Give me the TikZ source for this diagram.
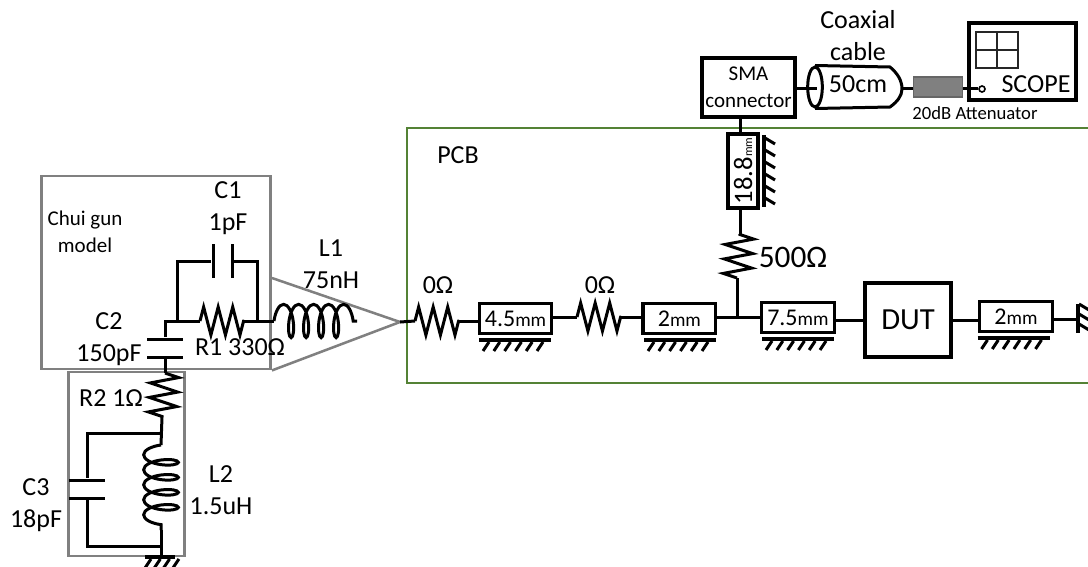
\documentclass[tikz,border=0pt]{standalone}
\usepackage{fontspec}
\setmainfont{Carlito}
\usetikzlibrary{positioning}
\usetikzlibrary{shapes.geometric}
\usetikzlibrary{decorations.pathmorphing}
\usetikzlibrary{calc}
\definecolor{pcbgreen}{RGB}{84,130,53}
\newcommand{\mmunit}{{\fontsize{14.5}{16}\selectfont mm}}
% ground: bar, then its hatches
\newcommand{\groundbar}[2]{%
  \draw[gndline] (#1-36,#2) -- (#1+36,#2);
  \foreach \k in {0,...,5} {\draw[hatchline] (#1-26+\k*10.8,#2+2) -- (#1-32+\k*10.8,#2+11);}
}
\begin{document}
\begin{tikzpicture}[
  x=0.75pt, y=-0.75pt,
  font=\fontsize{19.5}{24}\selectfont,
  wire/.style={line width=2.25pt},
  res/.style={line width=2.25pt, decorate, decoration={zigzag, segment length=10.9pt, amplitude=10.5pt}},
  ind/.style={line width=2.25pt, decorate, decoration={coil, segment length=11.25pt, amplitude=12.5pt, aspect=0.35}},
  indb/.style={line width=2.25pt, decorate, decoration={coil, mirror, segment length=11.25pt, amplitude=13pt, aspect=0.35}},
  gndline/.style={line width=2.4pt},
  hatchline/.style={line width=2.25pt},
  frame/.style={draw=gray, line width=1.9pt},
  stub/.style={draw, line width=2.4pt, inner sep=0pt, minimum width=54.5pt, minimum height=22.5pt, fill=white, font=\fontsize{18}{20}\selectfont},
  platex/.style={fill=black, inner sep=0pt, minimum width=27pt, minimum height=2.25pt},
  platey/.style={fill=black, inner sep=0pt, minimum width=2.25pt, minimum height=25.5pt},
  small/.style={font=\fontsize{15.75}{20}\selectfont, align=center},
  lbl/.style={align=center}
]
\useasboundingbox (0,0) rectangle (1088,567);

% Frames
\draw[pcbgreen, line width=1.9pt] (1088,128) -- (407,128) -- (407,383) -- (1088,383);
\node[frame, minimum width=172pt, minimum height=145pt, inner sep=0pt] (chui) at (156,272.5) {};
\node[frame, minimum width=87pt, minimum height=138pt, inner sep=0pt] (lower) at (126.5,464) {};
\coordinate (tip) at (400,322);
\draw[gray, line width=1.9pt] (chui.north east |- 0,278) -- (tip) -- (chui.south east);

% Chui gun part
\coordinate (n1) at (165,321);
\coordinate (n2) at (177,321);
\coordinate (n3) at (257,321);
\coordinate (r1a) at (200,321);
\coordinate (r1b) at (244,321);
\coordinate (l1a) at (274,321);
\coordinate (l1b) at (357,321);
\node[platey] (c1a) at (213,261) {};
\node[platey] (c1b) at (232,261) {};
\node[platex] (c2a) at (165,339) {};
\node[platex] (c2b) at (165,357) {};
\draw[wire] (c2a) -- (n1) -- (r1a);
\draw[res] (r1a) -- (r1b);
\draw[wire] (r1b) -- (l1a);
\draw[wire] (n2) |- (c1a);
\draw[wire] (c1b) -| (n3);
\draw[ind] (l1a) -- (l1b);

% Lower part
\coordinate (r2a) at (165,373);
\coordinate (r2b) at (162,417);
\coordinate (n4) at (162,433);
\coordinate (l2a) at (161,445);
\coordinate (l2b) at (161,530);
\coordinate (n5) at (161,546);
\coordinate (gnd1) at (161,556);
\node[platex] (c3a) at (87,480) {};
\node[platex] (c3b) at (87,498) {};
\draw[wire] (c2b) -- (r2a);
\draw[res] (r2a) -- (r2b);
\draw[wire] (r2b) -- (l2a);
\draw[indb] (l2a) -- (l2b);
\draw[wire] (l2b) -- (gnd1);
\draw[wire] (n4) -| (c3a);
\draw[wire] (c3b) |- (n5);
\draw[gndline] (145,557) -- (175,557);
\foreach \k in {0,...,3} {\draw[hatchline] (151+\k*9.3,559) -- (145+\k*9.3,568);}

% PCB line
\coordinate (r3a) at (415,321);
\coordinate (r3b) at (459,321);
\node[stub] (t1) at (515.5,318.5) {4.5\mmunit};
\coordinate (r4a) at (577,317);
\coordinate (r4b) at (621,317);
\node[stub, right=66pt of t1] (t2) {2\mmunit};
\coordinate (j1) at (737,317);
\node[stub, right=32pt of t2, yshift=0.75pt] (t3) {7.5\mmunit};
\node[draw, line width=3pt, minimum width=64pt, minimum height=56pt, inner sep=0pt, font=\fontsize{23}{26}\selectfont] (dut) at (908,320) {DUT};
\node[stub, right=19pt of dut, yshift=2.6pt] (t4) {2\mmunit};
\coordinate (gnd2) at (1078,319);
\draw[wire] (tip) -- (r3a);
\draw[res] (r3a) -- (r3b);
\draw[wire] (r3b) -- (r3b -| t1.west);
\draw[wire] (t1.east |- r4a) -- (r4a);
\draw[res] (r4a) -- (r4b);
\draw[wire] (r4b) -- (r4b -| t2.west);
\draw[wire] (t2.east |- j1) -- (j1 -| t3.west);
\draw[wire] (t3.east |- dut) -- (dut);
\draw[wire] (dut) -- (dut -| t4.west);
\draw[wire] (t4.east |- gnd2) -- (gnd2);
\draw[gndline] (1078,304) -- (1078,333);
\foreach \k in {0,1,2} {\draw[hatchline] (1079,304+\k*10) -- (1089,310+\k*10);}
\groundbar{515}{340}
\groundbar{680}{340}
\groundbar{798}{339}
\groundbar{1013.5}{338}

% Branch to the connector
\coordinate (r5a) at (737,278);
\coordinate (r5b) at (740,234);
\node[stub, minimum width=22.5pt, minimum height=55.5pt, font=\fontsize{20}{20}\selectfont] (t5) at (743,171) {\rotatebox{90}{18.8{\fontsize{9}{10}\selectfont mm}}};
\node[draw, line width=3pt, minimum width=70pt, minimum height=44pt, inner sep=0pt, align=center, font=\fontsize{15.75}{20}\selectfont] (sma) at (748.5,87.5) {SMA\\connector};
\draw[wire] (j1) -- (r5a);
\draw[res] (r5a) -- (r5b);
\draw[wire] (r5b) -- (r5b |- t5.south);
\draw[wire] (sma.south -| r5b) -- (r5b |- t5.north);
\draw[gndline] (764,135) -- (764,207);
\foreach \k in {0,...,5} {\draw[hatchline] (765,138+\k*12) -- (775,144+\k*12);}

% Cable and scope
\node[draw, ellipse, line width=2.25pt, minimum width=11pt, minimum height=30pt, inner sep=0pt] (cabend) at (815,87) {};
\coordinate (cabout) at (902,89);
\coordinate (cabtop) at (890,67);
\coordinate (cabbot) at (890,107);
\draw[wire] (cabend.north) -- (cabtop) .. controls (897,73) and (902,80) .. (cabout) .. controls (902,96) and (897,102) .. (cabbot) -- (cabend.south);
\node[lbl, inner sep=0pt] (cablen) at (858,84) {50cm};
\node[draw=black!60, fill=gray, line width=1pt, minimum width=37pt, minimum height=15pt, inner sep=0pt] (att) at (938,87) {};
\node[draw, line width=3pt, minimum width=80pt, minimum height=58pt, inner sep=0pt] (scope) at (1022.5,61.5) {};
\node[draw=black!85, line width=0.8pt, minimum width=31.5pt, minimum height=27pt, inner sep=0pt] (grid) at (997,50) {};
\draw[black!85, line width=0.8pt] (grid.north) -- (grid.south);
\draw[black!85, line width=0.8pt] (grid.west) -- (grid.east);
\node[draw, circle, line width=1.2pt, minimum size=4.5pt, inner sep=0pt, fill=white] (probe) at (982,89) {};
\draw[wire] (sma.east |- 0,89) -- (817,89);
\draw[wire] (cabout) -- (att.west |- cabout);
\draw[wire] (att.east |- probe) -- (probe);

% Labels
\node[small] (lblchui) at (85,232) {Chui gun\\model};
\node[lbl] (lblc1) at (228,208) {C1\\1pF};
\node[lbl] (lbll1) at (331,264) {L1\\75nH};
\node[lbl] (lblc2) at (109,339) {C2\\150pF};
\node[lbl] (lblr1) at (240,347) {R1 330Ω};
\node[lbl] (lblr2) at (111,398) {R2 1Ω};
\node[lbl] (lbll2) at (221,490) {L2\\1.5uH};
\node[lbl] (lblc3) at (36,505) {C3\\18pF};
\node[font=\fontsize{19.5}{24}\selectfont] (lblpcb) at (458,155) {PCB};
\node[lbl] (lbl0a) at (438,285) {0Ω};
\node[lbl] (lbl0b) at (600,285) {0Ω};
\node[font=\fontsize{23.5}{26}\selectfont] (lbl500) at (793,257) {500Ω};
\node[lbl] (lblcoax) at (858,36) {Coaxial\\cable};
\node[font=\fontsize{14}{17}\selectfont] (lblatt) at (975,113) {20dB Attenuator};
\node[lbl] (lblscope) at (1036,84) {SCOPE};
\end{tikzpicture}
\end{document}
